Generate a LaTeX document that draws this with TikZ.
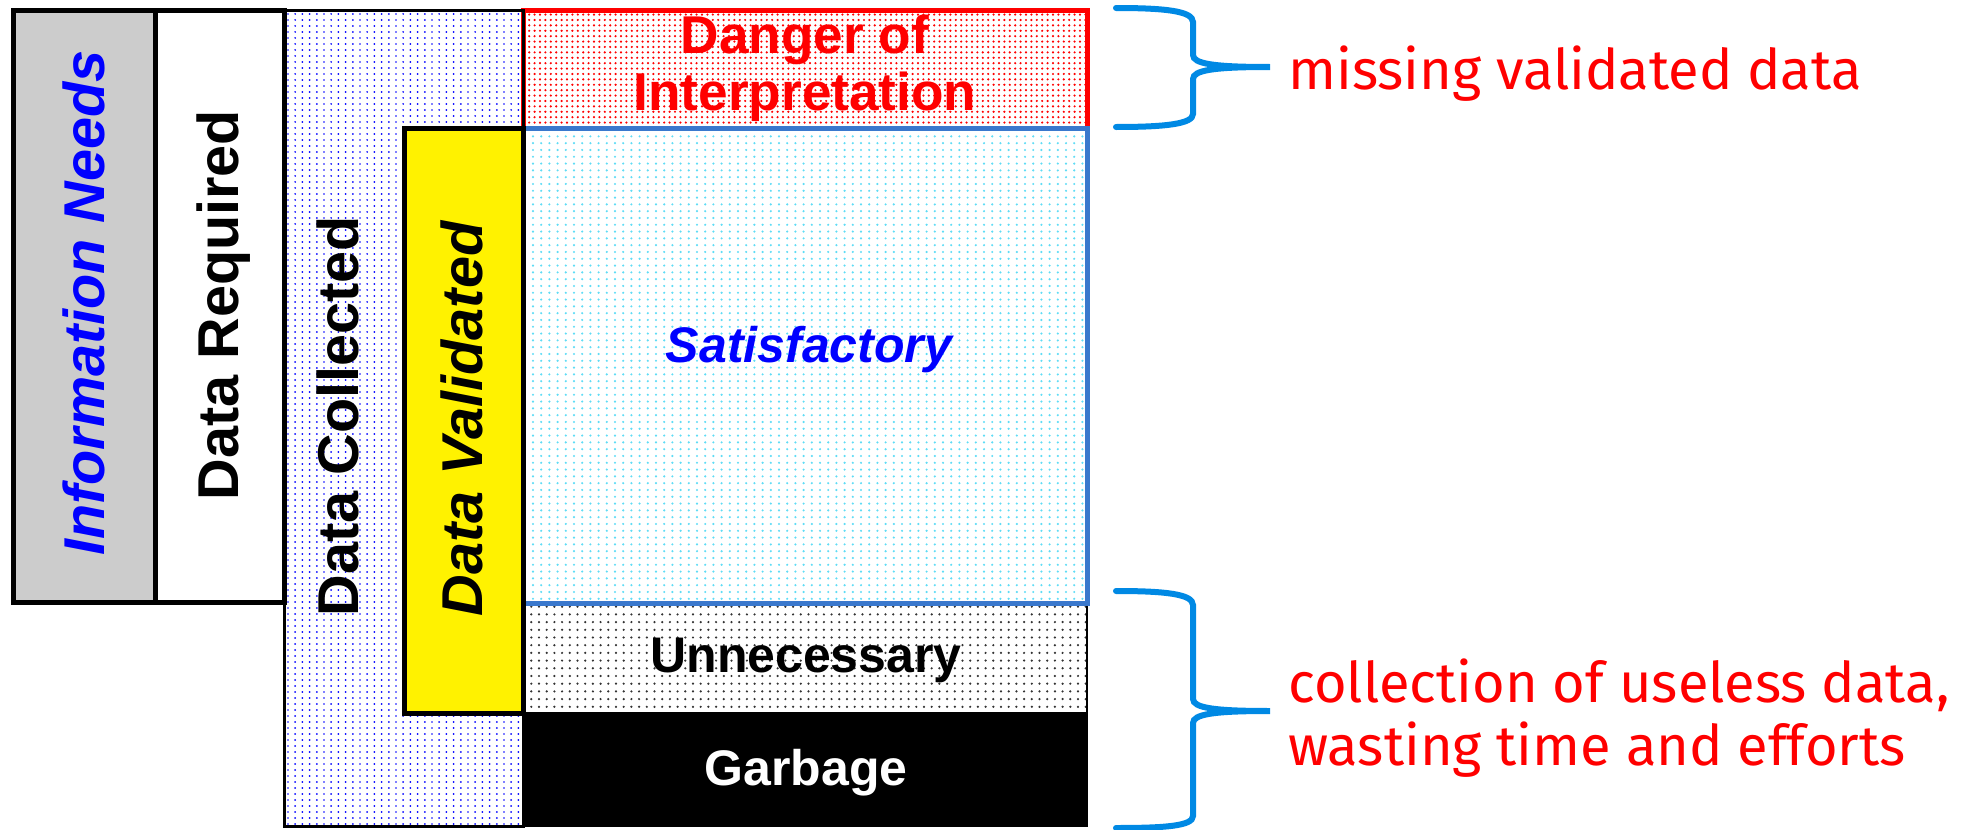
\documentclass[tikz,border=0pt]{standalone}
\usepackage{fontspec}
\setmainfont{Liberation Sans}
\newfontfamily\handfont{Fira Sans}
\usetikzlibrary{patterns.meta}
\definecolor{bracecol}{RGB}{0,137,228}
\definecolor{satborder}{RGB}{58,120,205}
\definecolor{satdot}{RGB}{95,220,245}
\definecolor{infogray}{RGB}{204,204,204}
\tikzdeclarepattern{name=pdc, type=uncolored,
  bounding box={(-0.7pt,-0.7pt) and (0.7pt,0.7pt)}, tile size={(3.6pt,3.0pt)},
  code={\fill (0pt,0pt) circle (0.48pt);}}
\tikzdeclarepattern{name=pred, type=uncolored,
  bounding box={(-0.7pt,-0.7pt) and (0.7pt,0.7pt)}, tile size={(2.7pt,2.7pt)},
  code={\fill (0pt,0pt) circle (0.6pt);}}
\tikzdeclarepattern{name=psat, type=uncolored,
  bounding box={(-0.7pt,-0.7pt) and (0.7pt,0.7pt)}, tile size={(4.1pt,3.4pt)},
  code={\fill (0pt,0pt) circle (0.6pt);}}
\tikzdeclarepattern{name=pun, type=uncolored,
  bounding box={(-0.7pt,-0.7pt) and (0.7pt,0.7pt)}, tile size={(3.85pt,3.85pt)},
  code={\fill (0pt,0pt) circle (0.62pt);}}
\begin{document}
\begin{tikzpicture}[x=0.5pt,y=-0.5pt,
  boxline/.style={draw=black, line width=2.5pt},
  vlabel/.style={rotate=90, anchor=base, inner sep=0pt, font=\fontsize{28.8}{30}\selectfont\bfseries},
  vlabelit/.style={vlabel, font=\fontsize{28.8}{30}\selectfont\bfseries\itshape},
  hlabel/.style={anchor=base, inner sep=0pt, font=\fontsize{25}{27}\selectfont\bfseries},
  hlabelit/.style={hlabel, font=\fontsize{25}{27}\selectfont\bfseries\itshape},
  danger/.style={hlabel, text=red, font=\fontsize{26.6}{28}\selectfont\bfseries},
  note/.style={anchor=base west, inner sep=0pt, text=red, font=\handfont\fontsize{28}{30}\selectfont},
  brace/.style={draw=bracecol, line width=3pt, line cap=round}]
\useasboundingbox (0,0) rectangle (1978,830);
% right column
\draw[draw=red, line width=2.5pt, pattern=pred, pattern color=red] (523,10) rectangle (1087,128);
\filldraw[draw=black, fill=black, line width=1pt] (523,713) rectangle (1087,826);
\draw[draw=black, line width=1pt, pattern=pun, pattern color=black!80] (523,603) rectangle (1087,713);
\draw[draw=satborder, line width=2.5pt, pattern=psat, pattern color=satdot] (523,128) rectangle (1087,603);
% left columns
\draw[draw=black, line width=1.5pt, pattern=pdc, pattern color=blue] (284,10) rectangle (523,826);
\draw[boxline, fill=infogray] (13,10) rectangle (155,602);
\draw[boxline, fill=white] (155,10) rectangle (284,602);
\draw[boxline, fill=yellow] (404,128) rectangle (523,713);
% labels
\node[vlabelit, text=blue] (info) at (104,303) {Information Needs};
\node[vlabel] (dreq) at (238,305) {Data Required};
\node[vlabel] (dcol) at (358,416) {Data Collected};
\node[vlabelit] (dval) at (482,419) {Data Validated};
\node[danger] (dang1) at (805,54) {Danger of};
\node[danger] (dang2) at (805,110) {Interpretation};
\node[hlabelit, text=blue] (sat) at (809,362) {Satisfactory};
\node[hlabel] (unn) at (806,672) {Unnecessary};
\node[hlabel, text=white] (garb) at (806,785) {Garbage};
% braces
\coordinate (b1t) at (1116,8);
\coordinate (b1m) at (1270,67);
\coordinate (b1b) at (1116,127);
\draw[brace] (b1t) .. controls (1165,8) and (1193,11) .. (1193,22) -- (1193,55)
  .. controls (1193,64) and (1215,67) .. (b1m)
  .. controls (1215,67) and (1193,70) .. (1193,79) -- (1193,114)
  .. controls (1193,124) and (1165,127) .. (b1b);
\coordinate (b2t) at (1116,591);
\coordinate (b2m) at (1270,711);
\coordinate (b2b) at (1116,828);
\draw[brace] (b2t) .. controls (1165,591) and (1193,594) .. (1193,605) -- (1193,699)
  .. controls (1193,708) and (1215,711) .. (b2m)
  .. controls (1215,711) and (1193,714) .. (1193,723) -- (1193,816)
  .. controls (1193,826) and (1165,828) .. (b2b);
% notes
\node[note] (n1) at (1288,90) {missing validated data};
\node[note] (n2) at (1288,702) {collection of useless data,};
\node[note] (n3) at (1288,765) {wasting time and efforts};
\end{tikzpicture}
\end{document}
